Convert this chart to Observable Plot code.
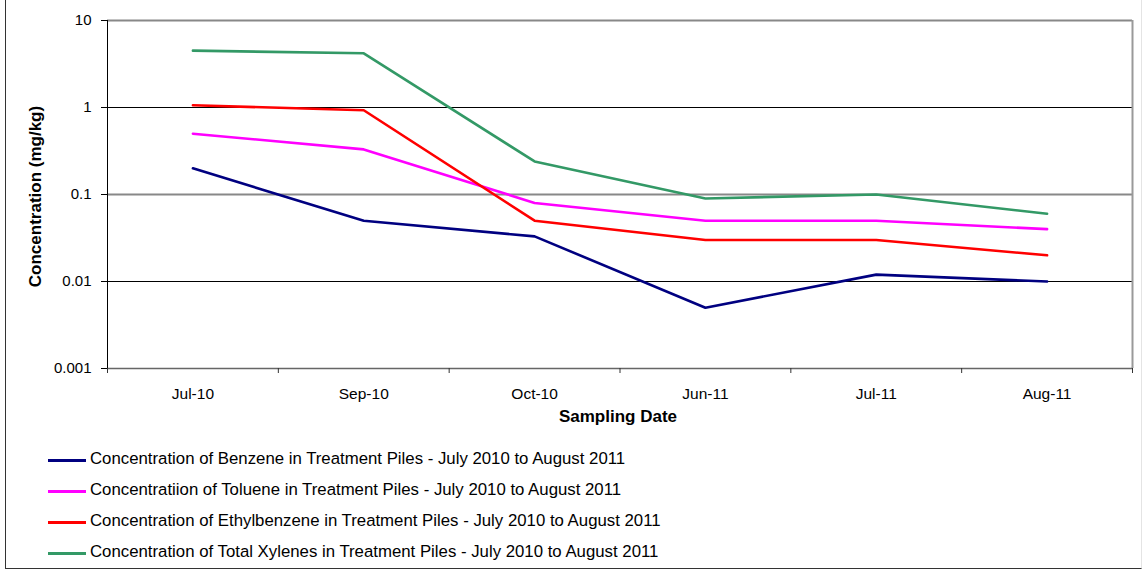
<!DOCTYPE html>
<html><head><meta charset="utf-8">
<script src="https://cdn.jsdelivr.net/npm/d3@7"></script>
<script src="https://cdn.jsdelivr.net/npm/@observablehq/plot@0.6"></script>
<style>
body{margin:0;background:#fff;}
#wrap{position:relative;width:1143px;height:572px;font-family:"Liberation Sans",Arial,sans-serif;overflow:hidden}
#frame{position:absolute;left:5px;top:-3px;width:1137px;height:572px;border-left:1.5px solid #333;border-bottom:1.5px solid #333;border-right:1px solid #e4e4e4;box-sizing:border-box}
#chart{position:absolute;left:0;top:0}
.leg{position:absolute;left:48px;height:24px;display:flex;align-items:center;font-size:16.8px;color:#000;white-space:nowrap}
.leg span.sw{display:inline-block;width:38px;height:2.6px;margin-right:4px;position:relative;top:2px}
</style></head>
<body><div id="wrap"><div id="frame"></div><div id="chart"></div></div>
<script>
const dates = ["Jul-10","Sep-10","Oct-10","Jun-11","Jul-11","Aug-11"];
const benzene = [0.2, 0.05, 0.033, 0.005, 0.012, 0.01];
const toluene = [0.5, 0.33, 0.08, 0.05, 0.05, 0.04];
const ethylbenzene = [1.06, 0.93, 0.05, 0.03, 0.03, 0.02];
const xylenes = [4.5, 4.2, 0.24, 0.09, 0.1, 0.06];
const seriesNames = [
  "Concentration of Benzene in Treatment Piles - July 2010 to August 2011",
  "Concentratiion of Toluene in Treatment Piles - July 2010 to August 2011",
  "Concentration of Ethylbenzene in Treatment Piles - July 2010 to August 2011",
  "Concentration of Total Xylenes in Treatment Piles - July 2010 to August 2011"
];
const yTicks = [0.001, 0.01, 0.1, 1, 10];
const yTickLabels = ["0.001", "0.01", "0.1", "1", "10"];
const colors = ["#000080", "#FF00FF", "#FF0000", "#339966"];

const allSeries = [benzene, toluene, ethylbenzene, xylenes];
const rows = [];
allSeries.forEach((vals, s) => vals.forEach((v, i) => rows.push({series: seriesNames[s], i, v})));
const idx = dates.map((d, i) => i);
const bounds = d3.range(dates.length + 1).map(i => i - 0.5);
const font = '"Liberation Sans", Arial, sans-serif';

const chart = Plot.plot({
  width: 1143, height: 440,
  marginLeft: 107, marginRight: 11, marginTop: 20, marginBottom: 72,
  style: {fontFamily: font, fontSize: "15px", color: "#000", background: "transparent", overflow: "visible"},
  x: {type: "linear", domain: [bounds[0], bounds[bounds.length - 1]]},
  y: {type: "log", domain: [yTicks[0], yTicks[yTicks.length - 1]]},
  color: {domain: seriesNames, range: colors},
  marks: [
    Plot.ruleY(yTicks.slice(1), {stroke: d => (d === 0.1 || d === 10) ? "#888" : "#000", strokeWidth: d => (d === 0.1 || d === 10) ? 2 : 1}),
    Plot.ruleX([bounds[bounds.length - 1]], {stroke: "#999", strokeWidth: 2}),
    Plot.line(rows, {x: "i", y: "v", z: "series", stroke: "series", strokeWidth: 2.6}),
    Plot.ruleY([yTicks[0]], {stroke: "#666", strokeWidth: 1.5}),
    Plot.ruleX([bounds[0]], {stroke: "#000", strokeWidth: 1}),
    Plot.axisY(yTicks, {tickFormat: d => yTickLabels[yTicks.indexOf(d)], tickSize: 6, tickPadding: 10, label: null, stroke: "#000", fontSize: 15}),
    Plot.axisX(idx, {tickFormat: i => dates[i], tickSize: 0, tickPadding: 19, label: null, fontSize: 15.5}),
    Plot.axisX(bounds, {tickFormat: () => "", tickSize: 5, label: null, stroke: "#333"}),
    Plot.text(["Sampling Date"], {frameAnchor: "bottom", dy: 53, dx: -2, fontWeight: "bold", fontSize: 17}),
    Plot.text(["Concentration (mg/kg)"], {frameAnchor: "left", textAnchor: "middle", dx: -72, dy: 2, rotate: -90, fontWeight: "bold", fontSize: 17})
  ]
});
document.getElementById("chart").appendChild(chart);

const wrap = document.getElementById("wrap");
const legY = [458.5, 489.5, 520.5, 551.5];
seriesNames.forEach((name, s) => {
  const el = document.createElement("div");
  el.className = "leg";
  el.style.top = (legY[s] - 12) + "px";
  const sw = document.createElement("span");
  sw.className = "sw";
  sw.style.background = colors[s];
  el.appendChild(sw);
  const t = document.createElement("span");
  t.textContent = name;
  el.appendChild(t);
  wrap.appendChild(el);
});
</script></body></html>
